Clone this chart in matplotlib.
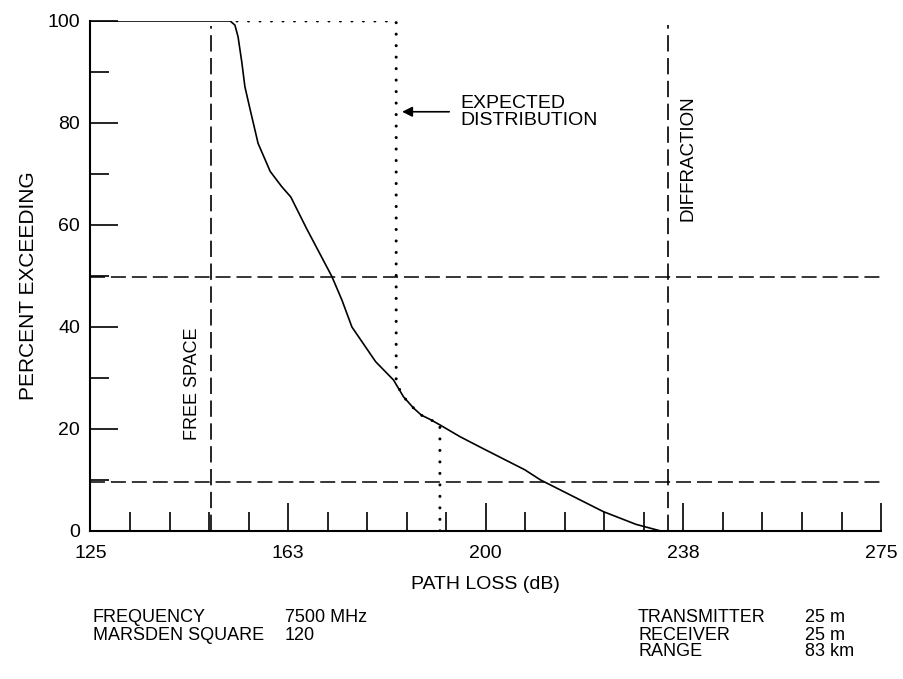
import matplotlib.pyplot as plt

plt.rcParams['font.family'] = ['Liberation Sans', 'DejaVu Sans']

# ---------------- data ----------------
# measured curve: path loss (dB) vs percent exceeding
loss_db = [125, 151.5, 152.4, 153.0, 153.7, 154.3, 155.3, 156.8, 159.1, 161.3,
           163.0, 166.0, 170.8, 172.7, 174.6, 179.1, 182.5, 184.4, 186.3, 187.8,
           189.4, 191.3, 195.1, 199.4, 207.4, 210.4, 222.3, 228.5, 233.2]
pct_exceed = [100, 100, 99.2, 96.9, 92.0, 87.1, 82.6, 76.0, 70.5, 67.5,
              65.5, 59.3, 49.9, 45.3, 40.0, 33.2, 29.6, 26.3, 24.1, 22.7,
              21.9, 20.8, 18.5, 16.2, 12.0, 10.0, 3.8, 1.3, 0]

# expected distribution (dotted)
exp_db = [152.8, 183.0, 183.0, 184.4, 186.3, 187.8, 189.4, 191.3, 191.3]
exp_pct = [100, 100, 29.0, 26.3, 24.1, 22.7, 21.9, 20.8, 0]

free_space_db = 147.9
diffraction_db = 234.5
hlines_pct = [49.8, 9.7]

xticks = [125, 162.5, 200, 237.5, 275]
xtick_labels = ['125', '163', '200', '238', '275']
yticks = [0, 20, 40, 60, 80, 100]

info_left = [('FREQUENCY', '7500 MHz'), ('MARSDEN SQUARE', '120')]
info_right = [('TRANSMITTER', '25 m'), ('RECEIVER', '25 m'), ('RANGE', '83 km')]

# ---------------- plot ----------------
fig = plt.figure(figsize=(9.04, 6.79), dpi=100)
ax = fig.add_axes([0.1001, 0.2180, 0.8745, 0.7511])

ax.plot(loss_db, pct_exceed, color='black', lw=1.2)
ax.plot(exp_db, exp_pct, color='black', lw=2.2, linestyle=(0, (0.01, 3.75)),
        dash_capstyle='round')

for y in hlines_pct:
    ax.axhline(y, color='black', lw=1.1, dashes=(9.8, 3.9))
ax.axvline(free_space_db, ymax=0.99, color='black', lw=1.2, dashes=(9.8, 3.9))
ax.axvline(diffraction_db, ymax=0.992, color='black', lw=1.2, dashes=(9.8, 3.9))

ax.text(144.4, 17.8, 'FREE SPACE', rotation=90, ha='center', va='bottom',
        fontsize=13)
ax.text(236.8, 85.5, 'DIFFRACTION', rotation=90, ha='left', va='top',
        fontsize=13.5)
ax.text(195.1, 82.2, 'EXPECTED\nDISTRIBUTION', ha='left', va='center',
        fontsize=14, linespacing=1.0)
ax.annotate('', xy=(183.6, 82.2), xytext=(193.6, 82.2),
            arrowprops=dict(arrowstyle='-|>', color='black', lw=1.2,
                            mutation_scale=15))

ax.set_xlim(125, 275)
ax.set_ylim(0, 100)
ax.spines['top'].set_visible(False)
ax.spines['right'].set_visible(False)
for s in ['left', 'bottom']:
    ax.spines[s].set_linewidth(1.5)

ax.set_xticks(xticks)
ax.set_xticklabels(xtick_labels)
ax.set_xticks([125 + 7.5 * i for i in range(21)], minor=True)
ax.set_yticks(yticks)
ax.set_yticks([10, 30, 50, 70, 90], minor=True)

ax.tick_params(axis='x', which='major', direction='in', length=20.5, width=1.2,
               labelsize=14, pad=10)
ax.tick_params(axis='x', which='minor', direction='in', length=13.5, width=1.2)
ax.tick_params(axis='y', which='major', direction='in', length=20.5, width=1.2,
               labelsize=14, pad=7.5)
ax.tick_params(axis='y', which='minor', direction='in', length=13.5, width=1.2)

ax.set_xlabel('PATH LOSS (dB)', fontsize=14)
ax.xaxis.set_label_coords(0.5, -0.088)
ax.set_ylabel('PERCENT EXCEEDING', fontsize=15)
ax.yaxis.set_label_coords(-0.066, 0.48)

# parameter block under the chart
row_y = [618, 635, 652]
for i, (k, v) in enumerate(info_left):
    fig.text(93 / 904, 1 - row_y[i] / 679, k, fontsize=13, va='center')
    fig.text(285 / 904, 1 - row_y[i] / 679, v, fontsize=13, va='center')
for i, (k, v) in enumerate(info_right):
    fig.text(638 / 904, 1 - row_y[i] / 679, k, fontsize=13, va='center')
    fig.text(805 / 904, 1 - row_y[i] / 679, v, fontsize=13, va='center')

fig.savefig('out.png', dpi=100)
